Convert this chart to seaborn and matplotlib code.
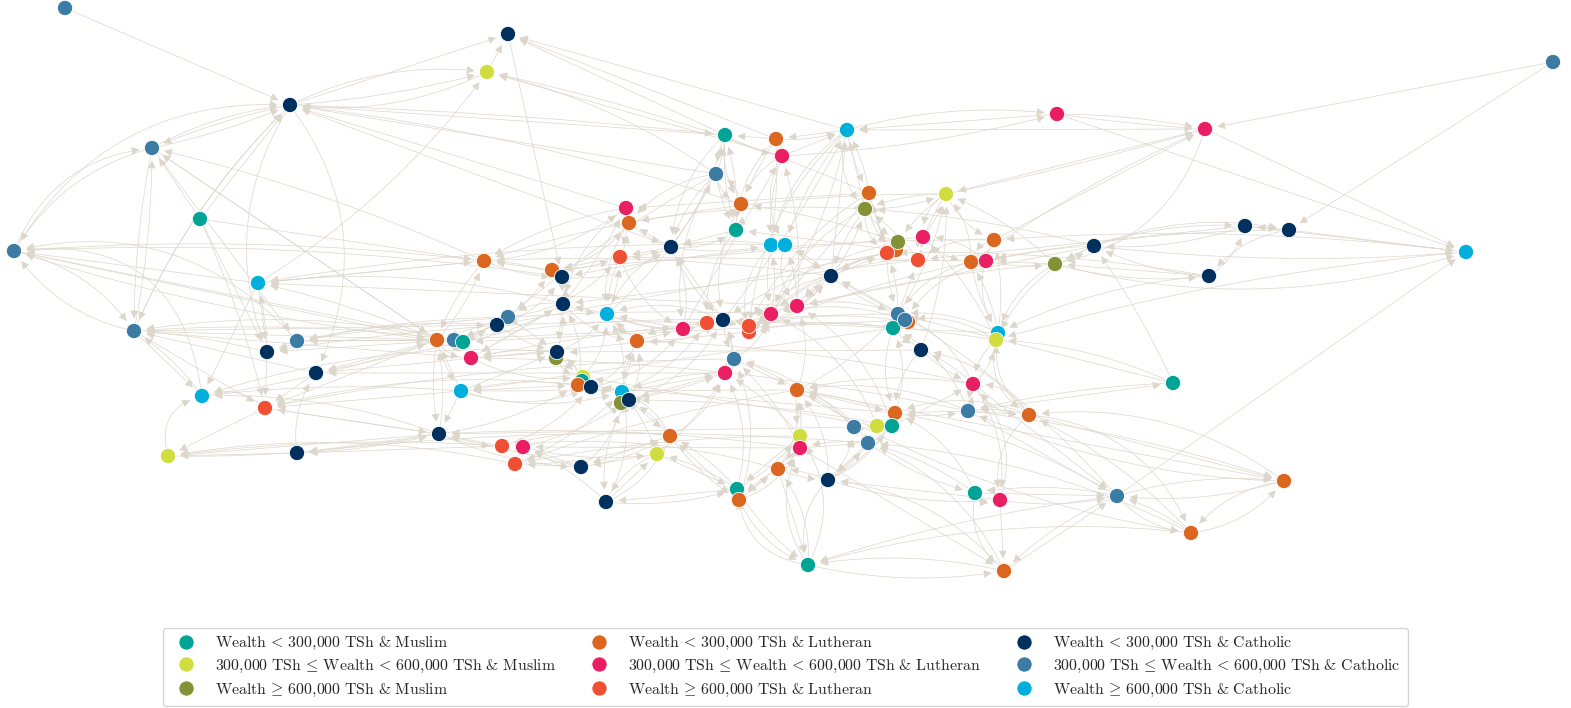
import pandas as pd
import matplotlib.pyplot as plt
import seaborn as sns
from matplotlib.patches import FancyArrowPatch

# node positions (pixel coordinates of the layout) and their group
node_x = [65, 508, 487, 290, 152, 200, 14, 258, 134, 297, 267, 316, 202, 265, 168, 297,
          1553, 725, 776, 847, 782, 1057, 1205, 716, 869, 946, 865, 626, 629, 741, 736,
          671, 771, 785, 896, 898, 923, 994, 887, 918, 971, 986, 1055, 1094, 1245, 1289,
          1209, 1466, 484, 552, 562, 620, 831, 563, 607, 508, 497, 437, 454, 463, 471,
          683, 707, 723, 749, 749, 771, 797, 637, 556, 557, 898, 908, 893, 905, 998, 996,
          921, 734, 725, 583, 582, 578, 591, 622, 621, 629, 461, 797, 973, 1173, 895, 968,
          1029, 854, 877, 892, 868, 800, 800, 670, 439, 502, 523, 515, 581, 657, 606, 737,
          739, 778, 828, 975, 1000, 1117, 1284, 1191, 1004, 808]
node_y = [8, 34, 72, 105, 148, 219, 251, 283, 331, 341, 352, 373, 396, 408, 456, 453,
          62, 135, 139, 130, 156, 114, 129, 174, 193, 194, 209, 208, 223, 204, 230,
          247, 245, 245, 250, 242, 237, 240, 253, 260, 262, 261, 264, 246, 226, 230,
          276, 252, 261, 270, 277, 257, 276, 304, 314, 317, 325, 340, 340, 342, 358,
          329, 323, 320, 332, 326, 314, 306, 341, 358, 352, 314, 322, 328, 320, 333, 340,
          350, 359, 373, 377, 381, 385, 387, 392, 403, 400, 391, 390, 384, 383, 413, 411,
          415, 427, 426, 426, 443, 436, 448, 436, 434, 446, 447, 464, 467, 454, 502, 489,
          500, 469, 480, 493, 500, 496, 481, 533, 571, 565]
node_group = [7, 6, 1, 6, 7, 0, 7, 8, 7, 7, 6, 6, 8, 5, 1, 6,
              7, 0, 3, 8, 4, 4, 4, 7, 3, 1, 2, 4, 3, 3, 0,
              6, 8, 8, 3, 2, 4, 3, 5, 5, 3, 4, 2, 6, 6, 6,
              6, 8, 3, 3, 6, 5, 6, 6, 8, 7, 6, 3, 7, 0, 4,
              4, 5, 6, 5, 5, 4, 4, 3, 2, 6, 7, 3, 0, 7, 8, 1,
              6, 7, 4, 1, 0, 3, 6, 8, 2, 6, 8, 3, 4, 0, 3, 7,
              3, 7, 1, 0, 7, 1, 4, 3, 6, 5, 4, 5, 6, 1, 6, 0,
              3, 3, 6, 0, 4, 7, 3, 3, 3, 0]

group_labels = [
    r"$\mathrm{Wealth}\,<\,300{,}000\ \mathrm{TSh}\ &\ \mathrm{Muslim}$",
    r"$300{,}000\ \mathrm{TSh}\,\leq\,\mathrm{Wealth}\,<\,600{,}000\ \mathrm{TSh}\ &\ \mathrm{Muslim}$",
    r"$\mathrm{Wealth}\,\geq\,600{,}000\ \mathrm{TSh}\ &\ \mathrm{Muslim}$",
    r"$\mathrm{Wealth}\,<\,300{,}000\ \mathrm{TSh}\ &\ \mathrm{Lutheran}$",
    r"$300{,}000\ \mathrm{TSh}\,\leq\,\mathrm{Wealth}\,<\,600{,}000\ \mathrm{TSh}\ &\ \mathrm{Lutheran}$",
    r"$\mathrm{Wealth}\,\geq\,600{,}000\ \mathrm{TSh}\ &\ \mathrm{Lutheran}$",
    r"$\mathrm{Wealth}\,<\,300{,}000\ \mathrm{TSh}\ &\ \mathrm{Catholic}$",
    r"$300{,}000\ \mathrm{TSh}\,\leq\,\mathrm{Wealth}\,<\,600{,}000\ \mathrm{TSh}\ &\ \mathrm{Catholic}$",
    r"$\mathrm{Wealth}\,\geq\,600{,}000\ \mathrm{TSh}\ &\ \mathrm{Catholic}$",
]
group_colors = ['#00a496', '#d0dd3f', '#849237', '#da661f', '#e91e63',
                '#ef5034', '#00305e', '#3b7ba4', '#00afdb']

# directed edges: (source, target, curvature)
edges = [
    (0, 3, 0), (3, 1, 0), (3, 2, -0.15), (2, 3, -0.15), (3, 2, 0.05), (4, 3, -0.1),
    (4, 3, 0.05), (6, 3, -0.3), (5, 3, 0), (8, 3, -0.1), (3, 4, 0.05), (6, 4, -0.3),
    (4, 6, 0.2), (4, 8, 0.05), (8, 4, 0.05), (3, 10, 0.25), (3, 11, -0.3), (3, 8, 0.1),
    (17, 3, 0), (23, 3, 0), (29, 3, 0.05), (31, 3, 0), (27, 3, 0), (3, 17, -0.02),
    (18, 1, 0), (17, 1, 0), (19, 1, 0), (1, 50, 0), (2, 1, 0), (24, 2, 0.05),
    (23, 2, 0.1), (20, 2, 0), (5, 4, 0), (57, 4, 0), (48, 4, 0.05), (4, 9, 0),
    (7, 6, 0), (48, 6, 0.05), (6, 57, 0), (57, 6, -0.05), (6, 8, -0.2), (8, 6, -0.2),
    (12, 6, 0.5), (9, 6, 0.3), (8, 12, 0), (12, 8, 0.1), (8, 13, 0), (57, 8, 0),
    (58, 8, 0.05), (11, 8, 0), (10, 8, 0.05), (60, 8, 0), (7, 10, 0), (10, 7, 0.05),
    (5, 10, 0), (5, 48, 0), (5, 13, -0.05), (7, 12, 0), (48, 7, 0), (57, 7, 0.05),
    (7, 2, 0.1), (10, 13, 0), (14, 12, -0.5), (13, 12, 0.3), (13, 14, 0), (15, 14, 0),
    (101, 14, 0), (102, 14, 0.05), (57, 11, 0), (59, 11, 0), (57, 9, 0), (58, 10, 0),
    (101, 13, 0), (57, 13, 0), (87, 13, 0), (11, 13, 0), (101, 15, 0), (102, 15, 0),
    (15, 11, -0.2), (9, 57, 0), (58, 9, 0),
    (101, 57, 0.1), (57, 101, 0.1), (87, 101, 0), (102, 101, 0), (101, 102, 0.1),
    (103, 102, 0), (104, 103, 0), (105, 104, 0), (107, 103, 0.1), (105, 103, 0),
    (101, 105, 0.1), (105, 101, 0), (106, 105, 0), (100, 105, 0), (107, 106, 0),
    (106, 107, 0.2), (108, 107, 0), (107, 108, 0.1), (86, 107, 0.2), (88, 104, 0.05),
    (100, 102, 0.1), (99, 101, 0.05), (110, 102, 0.1),
    (87, 57, 0), (57, 87, 0.1), (55, 57, 0), (56, 58, 0), (58, 56, 0.1), (59, 55, 0),
    (60, 53, 0), (53, 60, 0), (48, 57, 0.1), (57, 48, 0.1), (49, 48, 0), (50, 48, 0.1),
    (48, 50, 0.1), (51, 49, 0), (49, 51, 0.1), (50, 53, 0), (53, 50, 0.2), (54, 53, 0),
    (53, 54, 0.1), (54, 51, 0.1), (51, 54, 0.1), (27, 28, 0.3), (28, 51, 0), (51, 28, 0.1),
    (31, 28, 0), (28, 31, 0.1), (31, 51, 0), (51, 31, 0.1), (30, 31, 0), (31, 30, 0.2),
    (29, 30, 0.3), (30, 29, 0.3), (23, 30, 0.1), (23, 29, 0.3), (29, 23, 0.3),
    (17, 23, 0.1), (23, 17, 0.1), (18, 17, 0), (17, 20, 0.1), (20, 18, 0.3), (18, 20, 0.3),
    (19, 18, 0), (18, 19, 0.1), (20, 19, 0), (19, 26, 0.3), (26, 19, 0), (24, 19, 0.1),
    (19, 24, 0.1), (24, 26, 0.5), (26, 24, 0.5), (25, 26, 0.1), (26, 25, 0.1),
    (25, 35, 0.1), (36, 25, 0.1), (25, 37, 0.2), (35, 34, 0.5), (38, 35, 0.3),
    (35, 38, 0.1), (39, 36, 0.1), (36, 39, 0.3), (37, 40, 0.3), (40, 37, 0.3),
    (41, 40, 0.3), (40, 41, 0.3), (42, 41, 0), (41, 42, 0.1), (43, 42, 0), (42, 43, 0.1),
    (43, 41, 0.05), (44, 43, -0.1), (43, 44, -0.1), (43, 45, -0.15), (44, 45, 0),
    (45, 44, 0), (46, 44, 0.2), (45, 46, 0.2), (46, 43, -0.1), (44, 47, 0), (45, 47, 0),
    (43, 47, 0.05), (42, 47, 0.15), (46, 42, 0), (90, 43, 0.05), (16, 22, 0), (16, 45, 0),
    (21, 22, 0.02), (21, 22, -0.05), (37, 22, 0), (25, 22, 0.02), (40, 22, -0.05),
    (22, 25, 0), (22, 42, -0.3), (22, 47, 0), (21, 47, 0), (21, 19, 0), (22, 19, 0),
    (19, 21, -0.1), (20, 21, 0.05), (114, 47, 0), (42, 46, 0.1),
    (32, 33, 0.5), (33, 32, 0.5), (32, 31, 0.1), (31, 32, 0.1), (33, 52, 0), (52, 33, 0.1),
    (52, 26, 0.1), (26, 52, 0.1), (52, 38, 0), (38, 52, 0.1), (52, 67, 0), (67, 52, 0.1),
    (66, 52, 0.1), (32, 66, 0.1), (66, 32, 0.1), (67, 33, 0.1), (63, 31, 0), (31, 63, 0.1),
    (62, 63, 0), (63, 62, 0.3), (61, 62, 0.1), (62, 61, 0.1), (63, 65, 0.1), (65, 63, 0.1),
    (64, 66, 0), (66, 65, 0.1), (67, 66, 0.1), (61, 54, 0), (54, 61, 0.1), (68, 61, 0),
    (61, 68, 0.2), (68, 54, 0), (54, 68, 0.1), (84, 68, 0), (68, 84, 0.1), (86, 84, 0.5),
    (84, 86, 0.5), (85, 84, 0.5), (83, 84, 0.1), (84, 83, 0.1), (80, 83, 0.3),
    (82, 80, 0.3), (81, 82, 0.3), (83, 82, 0.3), (70, 80, 0.1), (80, 70, 0.1),
    (70, 69, 0.5), (53, 70, 0), (70, 53, 0.1), (55, 70, 0), (56, 70, 0.1), (60, 70, 0),
    (70, 60, 0.1), (87, 82, 0), (82, 87, 0.1), (87, 70, 0), (86, 100, 0), (100, 86, 0.1),
    (100, 106, 0), (106, 100, 0.1), (79, 78, 0.5), (78, 79, 0.5), (78, 63, 0.1),
    (63, 78, 0.1), (79, 86, 0), (86, 79, 0.05), (79, 84, 0.1), (84, 79, 0), (78, 88, 0),
    (88, 78, 0.1), (88, 91, 0), (91, 88, 0.05), (88, 98, 0.1), (98, 88, 0.1),
    (98, 99, 0.5), (99, 97, 0), (97, 99, 0.1), (94, 97, 0.3), (97, 94, 0.3), (95, 94, 0),
    (94, 95, 0.2), (96, 95, 0.3), (95, 96, 0.3), (91, 96, 0.2), (96, 91, 0.2),
    (73, 74, 0.5), (74, 73, 0.5), (71, 72, 0.5), (77, 73, 0), (73, 77, 0.1), (71, 52, 0),
    (52, 71, 0.1), (71, 38, 0.1), (38, 71, 0.1), (71, 39, 0), (75, 76, 0.5), (76, 75, 0.5),
    (75, 40, 0.1), (40, 75, 0.1), (76, 89, 0.2), (89, 76, 0.2), (89, 92, 0.1),
    (92, 89, 0.1), (92, 93, 0), (93, 92, 0.1), (93, 89, 0.3), (89, 93, 0.3), (92, 90, 0),
    (90, 92, 0.05), (92, 91, 0), (91, 92, 0.1), (93, 75, -0.3), (75, 93, 0.4),
    (77, 89, 0.1), (89, 77, 0.1), (96, 89, 0), (94, 88, 0.1), (96, 111, 0), (111, 96, 0.1),
    (97, 111, 0), (111, 97, 0.1), (110, 111, 0.1), (111, 110, 0.1), (109, 110, 0),
    (110, 109, 0.1), (108, 109, 0.3), (109, 108, 0.3), (99, 110, 0.1), (98, 108, 0),
    (108, 98, 0.1), (99, 109, 0), (106, 108, 0), (108, 106, 0.1), (109, 100, 0),
    (100, 109, 0.1), (112, 113, 0.5), (113, 112, 0.5), (112, 97, 0.1), (97, 112, 0.1),
    (113, 111, 0), (111, 113, 0.1), (112, 114, 0), (114, 112, 0.1), (113, 114, 0.1),
    (93, 113, 0.3), (89, 113, -0.2), (92, 114, 0), (89, 114, 0), (114, 115, -0.1),
    (115, 114, -0.1), (116, 114, 0.1), (93, 115, 0), (92, 115, -0.05), (88, 115, 0),
    (93, 116, -0.3), (114, 116, 0.2), (116, 115, 0.2), (115, 116, 0.2), (113, 117, 0),
    (117, 114, 0), (114, 117, 0.1), (117, 118, 0.1), (118, 117, 0.1), (116, 118, 0.1),
    (114, 118, 0.05), (108, 118, 0.1), (110, 118, 0), (111, 118, 0.3), (118, 108, -0.4),
    (118, 110, 0.2), (109, 118, 0.2), (112, 117, 0.3), (99, 117, 0), (88, 116, 0.1),
    (61, 57, 0), (63, 58, 0.05), (66, 9, 0.05), (62, 10, 0.05), (64, 11, 0), (67, 7, 0),
    (33, 7, 0.05), (52, 48, 0.05), (26, 48, 0.1), (38, 56, 0), (71, 60, 0.05), (74, 59, 0),
    (73, 87, 0), (77, 70, 0), (78, 13, 0.05), (79, 11, 0), (88, 87, 0), (94, 101, 0),
    (97, 15, 0.05), (99, 103, 0), (98, 104, 0.05), (91, 82, 0), (95, 80, 0), (96, 86, 0.05),
    (92, 60, 0.05), (89, 68, 0.05), (75, 63, 0), (76, 62, 0.05), (40, 64, 0.05), (41, 51, 0),
    (37, 50, 0.05), (36, 49, 0), (39, 53, 0), (25, 28, 0.05), (24, 27, 0), (35, 29, 0.05),
    (34, 30, 0), (42, 66, 0.05), (43, 67, 0), (46, 38, 0.05), (44, 39, 0), (45, 41, 0.05),
    (47, 37, 0.05), (42, 25, 0.1), (43, 26, 0.05), (114, 52, 0.1), (90, 71, 0),
    (115, 92, -0.1), (116, 93, 0.1),
    (30, 17, 0.1), (31, 17, 0.1), (32, 18, 0.05), (54, 23, 0.1), (53, 27, 0.05), (61, 20, 0),
    (63, 19, 0.05), (66, 19, 0.1), (67, 20, 0.1), (64, 24, 0.05), (52, 19, 0), (71, 25, 0.1),
    (77, 25, 0.1), (38, 24, 0), (39, 26, 0.1), (40, 25, 0.2), (75, 37, 0.1), (76, 36, 0.1),
    (17, 30, 0.1), (18, 29, 0.05), (19, 33, 0.1), (20, 32, 0.1), (24, 38, 0), (25, 39, 0.1),
    (26, 35, 0.1), (27, 48, 0.1), (23, 55, 0.05),
    (12, 57, 0.05), (13, 101, 0), (14, 101, 0.05), (15, 101, 0.05), (8, 56, 0), (6, 58, 0),
    (4, 57, 0), (7, 48, 0),
    (54, 63, 0.2), (63, 54, 0.2), (61, 31, 0.2), (51, 61, 0.2), (68, 63, 0.2), (86, 63, 0.2),
    (84, 62, 0.15), (83, 61, 0.2), (80, 54, 0.2), (53, 68, 0.2), (70, 54, 0.15), (50, 31, 0.2),
    (49, 28, 0.2), (48, 27, 0.15), (55, 51, 0.2), (56, 50, 0.2), (58, 49, 0.2), (59, 53, 0.1),
    (60, 80, 0.15), (87, 83, 0.2), (87, 84, 0.15), (101, 82, 0.1), (102, 83, 0.15),
    (103, 86, 0.1), (104, 84, 0.1), (105, 85, 0.2), (107, 84, 0.2), (106, 84, 0.1),
    (100, 84, 0.2), (100, 79, 0.2), (106, 79, 0.1), (108, 79, 0.2), (109, 78, 0.2),
    (110, 88, 0.2), (111, 88, 0.2), (111, 94, 0.2), (97, 88, 0.2), (98, 79, 0.1),
    (99, 78, 0.1), (94, 78, 0.15), (95, 66, 0.2), (96, 67, 0.2), (91, 73, 0.2), (73, 91, 0.2),
    (77, 91, 0.2), (71, 67, 0.15), (74, 66, 0.15), (73, 64, 0.1), (72, 65, 0.1), (38, 67, 0.2),
    (39, 66, 0.2), (34, 64, 0.15), (35, 63, 0.1), (26, 66, 0.2), (24, 65, 0.15), (19, 64, 0.2),
    (29, 63, 0.2), (30, 62, 0.2), (23, 61, 0.2), (28, 54, 0.2), (27, 53, 0.2), (31, 54, 0.2),
    (32, 64, 0.3), (33, 67, 0.3), (52, 65, 0.2), (65, 52, 0.2), (88, 67, 0.2), (78, 66, 0.2),
    (79, 63, 0.3), (88, 71, 0.1), (89, 71, 0.2), (92, 73, 0.2), (93, 77, 0.2), (75, 71, 0.15),
    (76, 74, 0.2), (40, 71, 0.2), (41, 74, 0.2), (37, 75, 0.3), (42, 75, 0.2), (43, 76, 0.2),
    (46, 75, 0.1), (47, 76, 0.05), (90, 76, 0.1), (89, 88, 0.1), (92, 88, 0.15), (93, 91, 0.2),
    (112, 91, 0.2), (113, 89, 0.3), (118, 98, 0.3), (118, 99, -0.3), (117, 111, 0.2),
    (117, 97, 0.2), (116, 97, 0.1), (115, 93, 0.2), (114, 91, 0.1), (111, 91, 0.2),
    (110, 98, 0.3), (109, 99, 0.2), (108, 100, 0.1), (107, 100, 0.2), (105, 100, 0.1),
    (104, 100, 0.1), (103, 106, 0.1), (57, 60, 0.3), (58, 60, 0.3), (59, 57, 0.4),
    (56, 55, 0.5), (55, 56, 0.5), (50, 49, 0.5), (53, 55, 0.2), (69, 80, 0.3), (81, 70, 0.2),
    (82, 53, 0.2), (83, 68, 0.2), (85, 86, 0.5), (86, 68, 0.2), (84, 54, 0.2), (36, 40, 0.2),
    (41, 36, 0.2), (37, 39, 0.2), (25, 36, 0.3), (24, 34, 0.3), (26, 38, 0.3), (20, 29, 0.2),
    (18, 30, 0.2), (17, 29, 0.2), (19, 32, 0.2), (20, 33, 0.3), (17, 31, 0.2), (23, 28, 0.2),
    (23, 31, 0.15),
    (59, 8, 0.1), (55, 9, 0.05), (56, 10, 0.1), (53, 7, 0.1), (50, 6, 0.05), (70, 12, 0.1),
    (87, 12, 0.05), (83, 13, 0.1), (101, 12, 0.1), (104, 14, 0.1),
]

df = pd.DataFrame({
    'x': node_x,
    'y': node_y,
    'group': [group_labels[g] for g in node_group],
})

sns.set_style('white')
plt.rcParams['mathtext.fontset'] = 'cm'

fig = plt.figure(figsize=(15.71, 7.08), dpi=100)
ax = fig.add_axes([0, 0, 1, 1])

edge_color = '#ddd6cb'
for src, dst, rad in edges:
    arrow = FancyArrowPatch(
        (node_x[src], node_y[src]), (node_x[dst], node_y[dst]),
        connectionstyle=f'arc3,rad={rad}', arrowstyle='-|>',
        mutation_scale=12, color=edge_color, lw=0.5,
        shrinkA=6, shrinkB=9, zorder=1)
    ax.add_patch(arrow)

sns.scatterplot(data=df, x='x', y='y', hue='group', hue_order=group_labels,
                palette=group_colors, s=120, edgecolor='white', linewidth=0.6,
                zorder=3, ax=ax)

ax.set_xlim(0, 1571)
ax.set_ylim(708, 0)
ax.axis('off')

handles, labels = ax.get_legend_handles_labels()
ax.legend(handles, labels, ncol=3, loc='lower center', bbox_to_anchor=(0.5, 2 / 708),
          borderaxespad=0, fontsize=11.4, frameon=True, fancybox=True,
          edgecolor='#cccccc', columnspacing=1.7, handletextpad=0.85,
          labelspacing=0.36, markerscale=1.0, borderpad=0.45)

fig.savefig('out.png', dpi=100)
